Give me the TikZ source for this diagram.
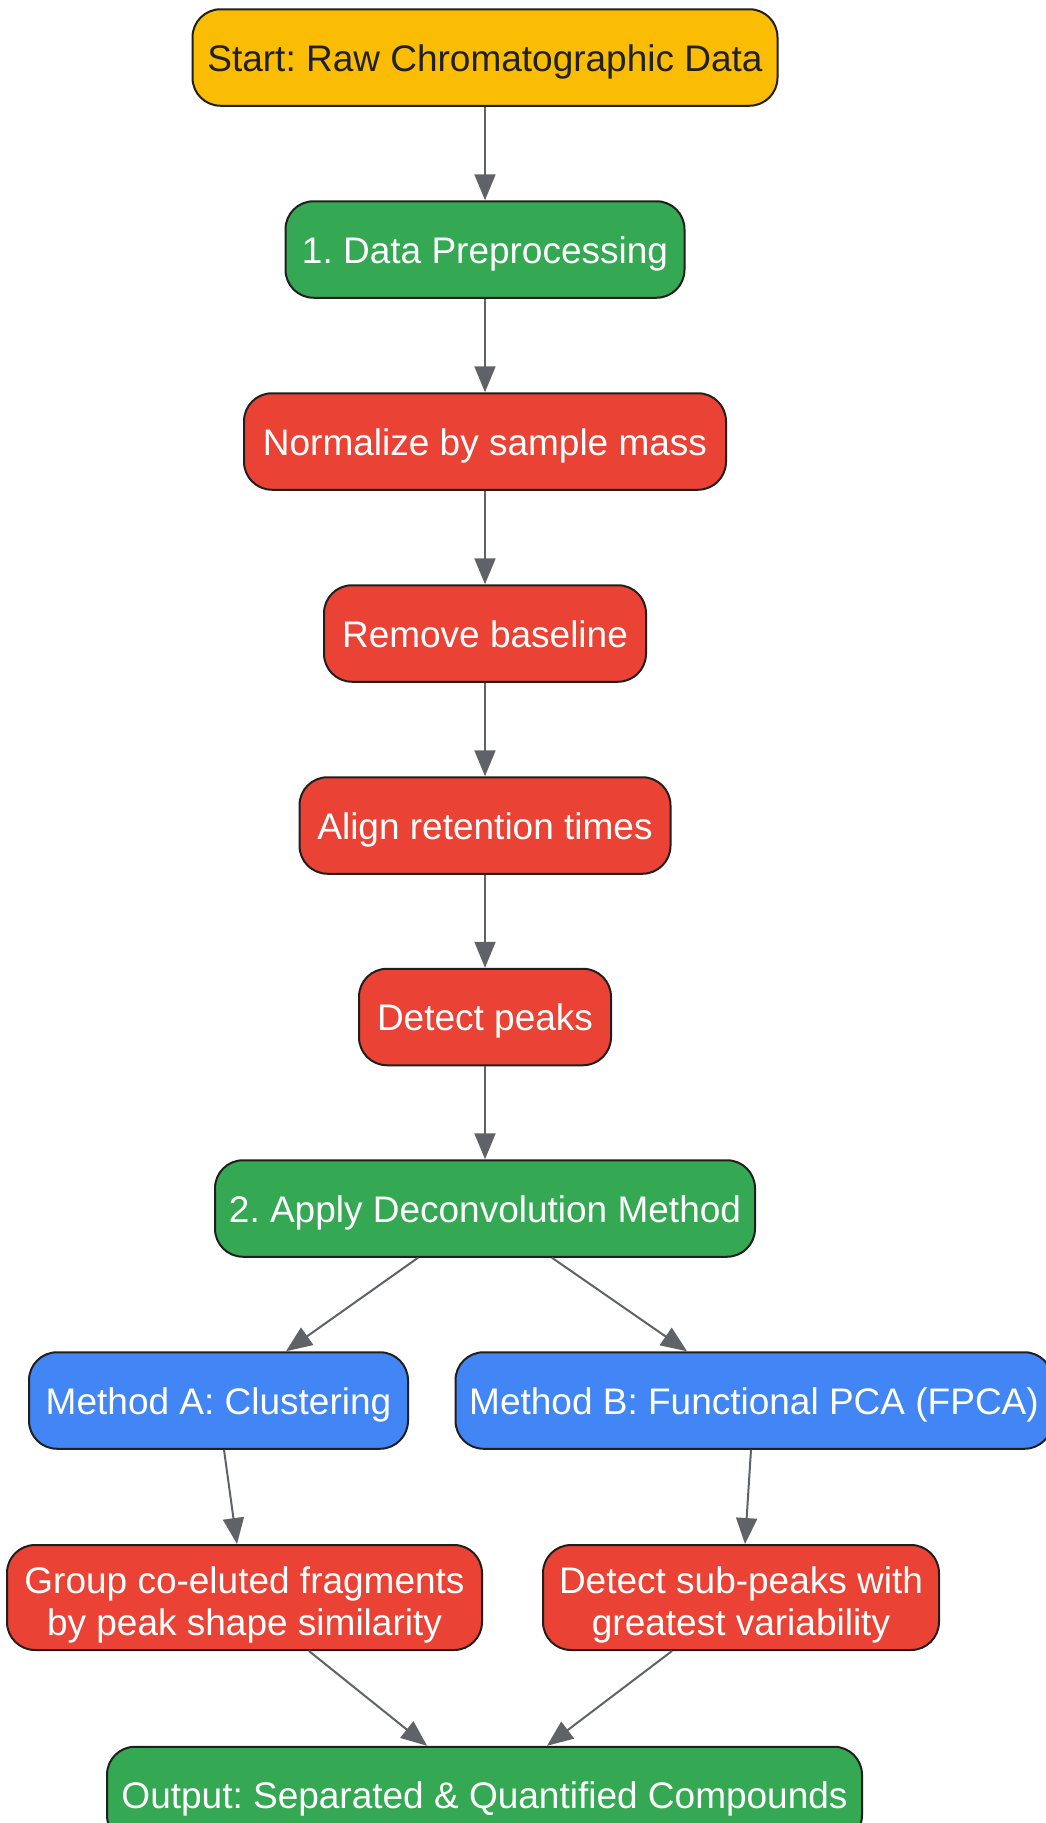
\documentclass[tikz,border=0pt]{standalone}
\usepackage{fontspec}
\setmainfont{Liberation Sans}
\usetikzlibrary{arrows.meta}
\definecolor{cyellow}{HTML}{FBBC04}
\definecolor{cgreen}{HTML}{34A853}
\definecolor{cred}{HTML}{EA4335}
\definecolor{cblue}{HTML}{4285F4}
\definecolor{cborder}{HTML}{1F1F1F}
\definecolor{cedge}{HTML}{5F6368}
\definecolor{ctext}{HTML}{202124}
\frenchspacing
\begin{document}
\begin{tikzpicture}[x=1pt,y=-1pt,
  box/.style={draw=cborder, line width=2pt, rounded corners=28pt, inner sep=0pt,
    font=\fontsize{37}{42}\selectfont\frenchspacing, align=center, text=white,
    minimum height=96.5pt, text height=33pt, text depth=5.5pt},
  twoline/.style={minimum height=105pt, text height=, text depth=},
  yelbox/.style={box, fill=cyellow, text=ctext},
  grnbox/.style={box, fill=cgreen},
  redbox/.style={box, fill=cred},
  bluebox/.style={box, fill=cblue},
  conn/.style={draw=cedge, line width=2pt, -{Triangle[length=26pt,width=21pt]}}
]
\clip (0,0) rectangle (1046,1823);
\fill[white] (0,0) rectangle (1046,1823);
\node[yelbox, minimum width=585pt] (start) at (485,57.5) {Start: Raw Chromatographic Data};
\node[grnbox, minimum width=399pt] (prep) at (485,249.5) {1. Data Preprocessing};
\node[redbox, minimum width=482pt] (norm) at (485,441.5) {Normalize by sample mass};
\node[redbox, minimum width=322pt] (base) at (485,633.5) {Remove baseline};
\node[redbox, minimum width=371pt] (align) at (485,825.5) {Align retention times};
\node[redbox, minimum width=252pt] (peaks) at (485,1017) {Detect peaks};
\node[grnbox, minimum width=540pt] (apply) at (485,1208.5) {2. Apply Deconvolution Method};
\node[bluebox, minimum width=379pt] (ma) at (218.5,1400.5) {Method A: Clustering};
\node[bluebox, minimum width=597pt] (mb) at (754,1400.5) {Method B: Functional PCA (FPCA)};
\node[redbox, twoline, minimum width=475pt] (group) at (244.5,1597.5) {\raisebox{-15pt}[0pt][0pt]{\begin{tabular}{@{}c@{}}Group co-eluted fragments\\by peak shape similarity\end{tabular}}};
\node[redbox, twoline, minimum width=396pt] (sub) at (741,1597.5) {\raisebox{-15pt}[0pt][0pt]{\begin{tabular}{@{}c@{}}Detect sub-peaks with\\greatest variability\end{tabular}}};
\node[grnbox, minimum width=755pt] (out) at (484.5,1795) {Output: Separated \& Quantified Compounds};
\draw[conn] (start) -- (prep);
\draw[conn] (prep) -- (norm);
\draw[conn] (norm) -- (base);
\draw[conn] (base) -- (align);
\draw[conn] (align) -- (peaks);
\draw[conn] (peaks) -- (apply);
\draw[conn] ([xshift=-67pt]apply.south) -- ([xshift=67.5pt]ma.north);
\draw[conn] ([xshift=67pt]apply.south) -- ([xshift=-67pt]mb.north);
\draw[conn] ([xshift=5.5pt]ma.south) -- ([xshift=-7.5pt]group.north);
\draw[conn] ([xshift=-3pt]mb.south) -- ([xshift=4pt]sub.north);
\draw[conn] ([xshift=64.5pt]group.south) -- ([xshift=-57.5pt]out.north);
\draw[conn] ([xshift=-69pt]sub.south) -- ([xshift=62.5pt]out.north);
\end{tikzpicture}
\end{document}
